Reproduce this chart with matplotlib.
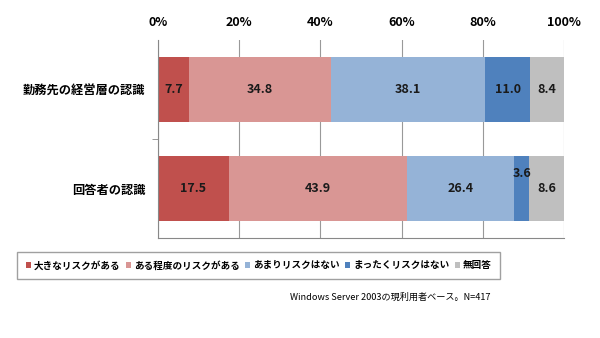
import matplotlib.pyplot as plt
import numpy as np
from matplotlib.ticker import MultipleLocator, FuncFormatter

plt.rcParams['font.family'] = ['Noto Sans CJK JP', 'DejaVu Sans']

categories = ["勤務先の経営層の認識", "回答者の認識"]
series = ["大きなリスクがある", "ある程度のリスクがある", "あまりリスクはない",
          "まったくリスクはない", "無回答"]
values = np.array([
    [7.7, 34.8, 38.1, 11.0, 8.4],
    [17.5, 43.9, 26.4, 3.6, 8.6],
])
colors = ["#C0504D", "#D99694", "#95B3D7", "#4F81BD", "#BFBFBF"]

fig = plt.figure(figsize=(6, 3.38), dpi=100)
ax = fig.add_axes([0.2633, 0.2959, 0.6767, 0.5858])

y = np.arange(len(categories))
left = np.zeros(len(categories))
for j, name in enumerate(series):
    w = values[:, j]
    ax.barh(y, w, left=left, height=0.66, color=colors[j], label=name, zorder=2)
    for i in range(len(categories)):
        cx = left[i] + w[i] / 2
        cy = y[i]
        if w[i] < 5:
            cy = y[i] - 0.15
        ax.text(cx, cy, f"{w[i]:.1f}", ha="center", va="center",
                fontsize=9, fontweight="bold", color="#1a1a1a", zorder=3)
    left += w

ax.set_xlim(0, 100)
ax.set_ylim(1.5, -0.5)
ax.xaxis.set_major_locator(MultipleLocator(20))
ax.xaxis.set_major_formatter(FuncFormatter(lambda v, p: f"{v:.0f}%"))
ax.xaxis.tick_top()
ax.tick_params(axis="x", length=0, labelsize=9, pad=8)
for lab in ax.get_xticklabels():
    lab.set_fontweight("bold")
ax.grid(axis="x", color="#999999", linewidth=0.8, zorder=0)

ax.set_yticks(y)
ax.set_yticklabels(categories, fontsize=8.8, fontweight="bold")
ax.tick_params(axis="y", length=0, pad=9)
ax.set_yticks([0.5], minor=True)
ax.tick_params(axis="y", which="minor", length=4, color="#888888")

ax.spines["top"].set_visible(False)
ax.spines["right"].set_visible(False)
ax.spines["left"].set_color("#888888")
ax.spines["bottom"].set_color("#888888")

fig.legend(loc="center", bbox_to_anchor=(0.431, 0.2145),
           ncol=5, frameon=True, fancybox=False,
           edgecolor="#888888", handlelength=0.55, handleheight=0.55,
           handletextpad=0.3, columnspacing=0.55, borderpad=0.85,
           prop={"size": 6.9, "weight": "bold"})

fig.text(0.817, 0.12, "Windows Server 2003の現利用者ベース。N=417",
         ha="right", va="center", fontsize=6.6)

fig.savefig("out.png", dpi=100, facecolor="white")
